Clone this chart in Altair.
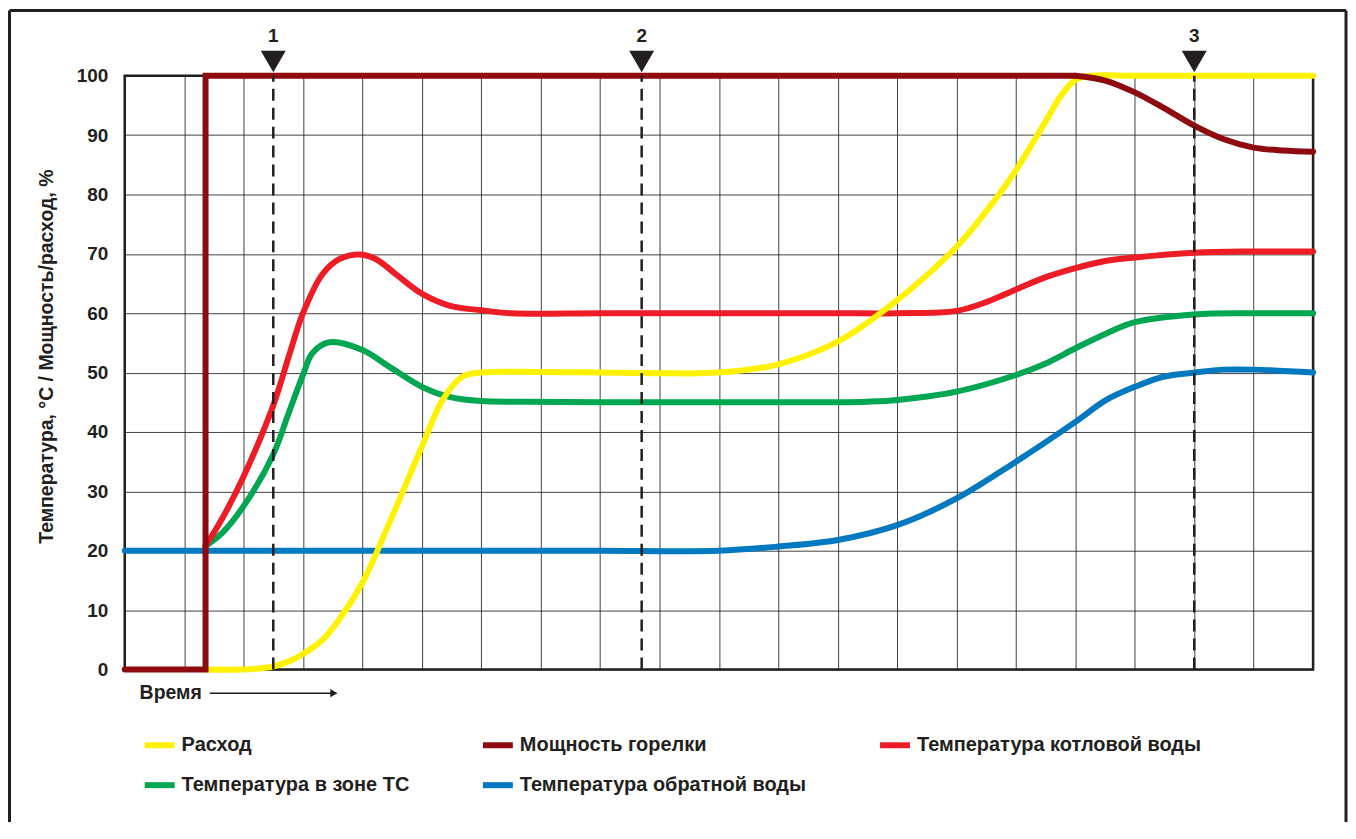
import altair as alt
import pandas as pd

FONT = "Liberation Sans"
INK = "#231F20"

SERIES = ["Расход", "Мощность горелки", "Температура котловой воды",
          "Температура в зоне ТС", "Температура обратной воды"]
COLORS = ["#FFF200", "#8E0A0E", "#EE1C25", "#00A651", "#0079C1"]

# Расход (flow)
flow_x = [1.36, 2.0, 2.5, 2.77, 3.0, 3.33, 3.61, 4.0, 4.45, 5.0, 5.35, 5.68, 6.0, 7.0, 8.0, 9.0, 10.0,
          11.0, 12.0, 13.0, 14.0, 14.64, 15.0, 15.48, 15.76, 16.0, 16.25, 17.0, 18.0, 19.0, 20.0]
flow_y = [0, 0, 0.5, 1.4, 2.6, 5.0, 8.4, 14.6, 24.6, 37.5, 45.4, 49.3, 50, 50.1, 50, 49.9, 50,
          51.4, 55.2, 62.2, 71.2, 79, 84.1, 92, 96.7, 99.3, 100, 100, 100, 100, 100]

# Температура котловой воды (boiler water)
boiler_x = [1.36, 1.65, 2.0, 2.49, 2.77, 3.0, 3.33, 3.61, 3.95, 4.23, 4.56, 5.0, 5.46, 6.0, 6.5,
            8.0, 10.0, 12.0, 13.0, 14.0, 14.53, 15.0, 15.48, 16.0, 16.5, 17.0, 18.0, 19.0, 20.0]
boiler_y = [20.8, 25.6, 32.5, 44.2, 53.0, 60.0, 66.6, 69.1, 69.9, 69.1, 66.6, 63.3, 61.3, 60.5, 60,
            60, 60, 60, 60, 60.4, 62, 64, 66, 67.6, 68.8, 69.4, 70.2, 70.4, 70.4]

# Температура в зоне ТС (zone)
zone_x = [1.36, 1.65, 2.0, 2.49, 2.77, 3.0, 3.16, 3.45, 4.0, 4.45, 5.0, 5.46, 6.0, 6.7, 8.0,
          10.0, 12.0, 12.5, 13.0, 14.0, 15.0, 15.49, 16.0, 16.52, 17.0, 18.0, 19.0, 20.0]
zone_y = [20.8, 23.1, 27.5, 36.0, 43.5, 49.6, 53.3, 55.1, 53.8, 51, 47.6, 45.9, 45.2, 45.1, 45,
          45, 45, 45.1, 45.4, 46.8, 49.6, 51.5, 54.1, 56.6, 58.5, 59.8, 60, 60]

# Температура обратной воды (return water)
return_x = [0, 2, 4, 6, 8, 10, 11, 12, 13, 14, 15, 16, 16.52, 17, 17.48, 18, 18.5, 19, 20]
return_y = [20, 20, 20, 20, 20, 20, 20.7, 21.8, 24.3, 28.8, 35, 41.7, 45.4, 47.6, 49.3, 50, 50.5, 50.5, 50]

# Мощность горелки (burner power): step part and smooth tail
burner_step_x = [0, 1.36, 1.36, 16.0]
burner_step_y = [0, 0, 100, 100]
burner_tail_x = [16.0, 16.5, 17.0, 17.5, 18.0, 18.5, 19.0, 19.5, 20.0]
burner_tail_y = [100, 99.2, 97.2, 94.5, 91.6, 89.3, 87.9, 87.4, 87.2]

# markers 1, 2, 3
marker_x = [2.5, 8.7, 18.0]
marker_labels = ["1", "2", "3"]

y_ticks = list(range(0, 101, 10))
x_grid = list(range(0, 21))


def rows(name, xs, ys):
    return [{"series": name, "x": a, "y": b, "idx": i} for i, (a, b) in enumerate(zip(xs, ys))]


smooth = pd.DataFrame(
    rows(SERIES[4], return_x, return_y)
    + rows(SERIES[3], zone_x, zone_y)
    + rows(SERIES[2], boiler_x, boiler_y)
    + rows(SERIES[0], flow_x, flow_y)
    + rows(SERIES[1], burner_tail_x, burner_tail_y)
)
step = pd.DataFrame(rows(SERIES[1], burner_step_x, burner_step_y))
markers = pd.DataFrame({"x": marker_x, "label": marker_labels})
one = pd.DataFrame({"a": [0]})

xscale = alt.Scale(domain=[0, 20], nice=False, zero=False)
yscale = alt.Scale(domain=[0, 100], nice=False)


def X():
    return alt.X("x:Q", scale=xscale,
                 axis=alt.Axis(values=x_grid, labels=False, ticks=False, domain=False,
                               grid=True, title=None))


def Y():
    return alt.Y("y:Q", scale=yscale,
                 axis=alt.Axis(values=y_ticks, grid=True, ticks=False, domain=False,
                               labelPadding=17, labelFontSize=19, labelFontWeight="bold",
                               title="Температура, °С / Мощность/расход, %",
                               titleFontSize=19.5, titleFontWeight="bold", titlePadding=19,
                               titleAngle=270, titleBaseline="bottom", titleY=281,
                               titleX=-68))


color = alt.Color(
    "series:N",
    scale=alt.Scale(domain=SERIES, range=COLORS),
    legend=alt.Legend(orient="none", legendX=17, legendY=653, direction="horizontal",
                      columns=3, title=None, labelFont=FONT, labelFontSize=20,
                      labelFontWeight="bold", labelColor=INK, symbolType="stroke",
                      symbolSize=900, symbolStrokeWidth=6, labelOffset=4,
                      columnPadding=61, rowPadding=10, labelLimit=500),
)

lines = alt.Chart(smooth).mark_line(interpolate="catmull-rom", strokeWidth=6, strokeCap="round",
                                    strokeJoin="round").encode(
    x=X(), y=Y(), color=color, order=alt.Order("idx:Q"))

step_line = alt.Chart(step).mark_line(interpolate="linear", strokeWidth=6, strokeCap="round",
                                      strokeJoin="miter").encode(
    x=X(), y=Y(), color=color, order=alt.Order("idx:Q"))

dashes = alt.Chart(markers).mark_rule(strokeDash=[12, 7], strokeWidth=2.5, color=INK).encode(
    x=X(), y=alt.datum(0), y2=alt.datum(100))

tri = alt.Chart(markers).mark_point(shape="triangle-down", filled=True, size=625, color=INK,
                                    opacity=1).encode(x=X(), y=alt.datum(102.4))

nums = alt.Chart(markers).mark_text(fontSize=19, fontWeight="bold", font=FONT, color=INK,
                                    baseline="middle").encode(
    x=X(), y=alt.datum(106.7), text="label:N")

time_text = alt.Chart(one).mark_text(text="Время", align="left", baseline="middle", fontSize=19.5,
                                     fontWeight="bold", font=FONT, color=INK).encode(
    x=alt.datum(0.25), y=alt.datum(-4.0))
time_arrow = alt.Chart(one).mark_rule(strokeWidth=1.5, color=INK).encode(
    x=alt.datum(1.43), x2=alt.datum(3.5), y=alt.datum(-4.0))
time_head = alt.Chart(one).mark_point(shape="triangle-right", filled=True, size=70, color=INK,
                                      opacity=1).encode(x=alt.datum(3.52), y=alt.datum(-4.0))

frame_left = alt.Chart(one).mark_rule(strokeWidth=3, color=INK).encode(
    x=alt.value(-115.5), y=alt.value(-65.5), y2=alt.value(748))
frame_top = alt.Chart(one).mark_rule(strokeWidth=3, color=INK).encode(
    x=alt.value(-115.5), x2=alt.value(1224), y=alt.value(-65.5))
frame_right = alt.Chart(one).mark_rule(strokeWidth=3, color=INK).encode(
    x=alt.value(1224), y=alt.value(-65.5), y2=alt.value(748))

chart = alt.layer(
    lines, step_line, dashes, tri, nums, time_text, time_arrow, time_head,
    frame_left, frame_top, frame_right
).properties(
    width=1191, height=595, padding=0, background="white"
).configure_view(
    stroke=INK, strokeWidth=2.5
).configure_axis(
    labelFont=FONT, titleFont=FONT, labelColor=INK, titleColor=INK,
    gridColor=INK, gridWidth=1, gridOpacity=0.85
)

chart.save("out.html", embed_options={"renderer": "svg", "actions": False})
